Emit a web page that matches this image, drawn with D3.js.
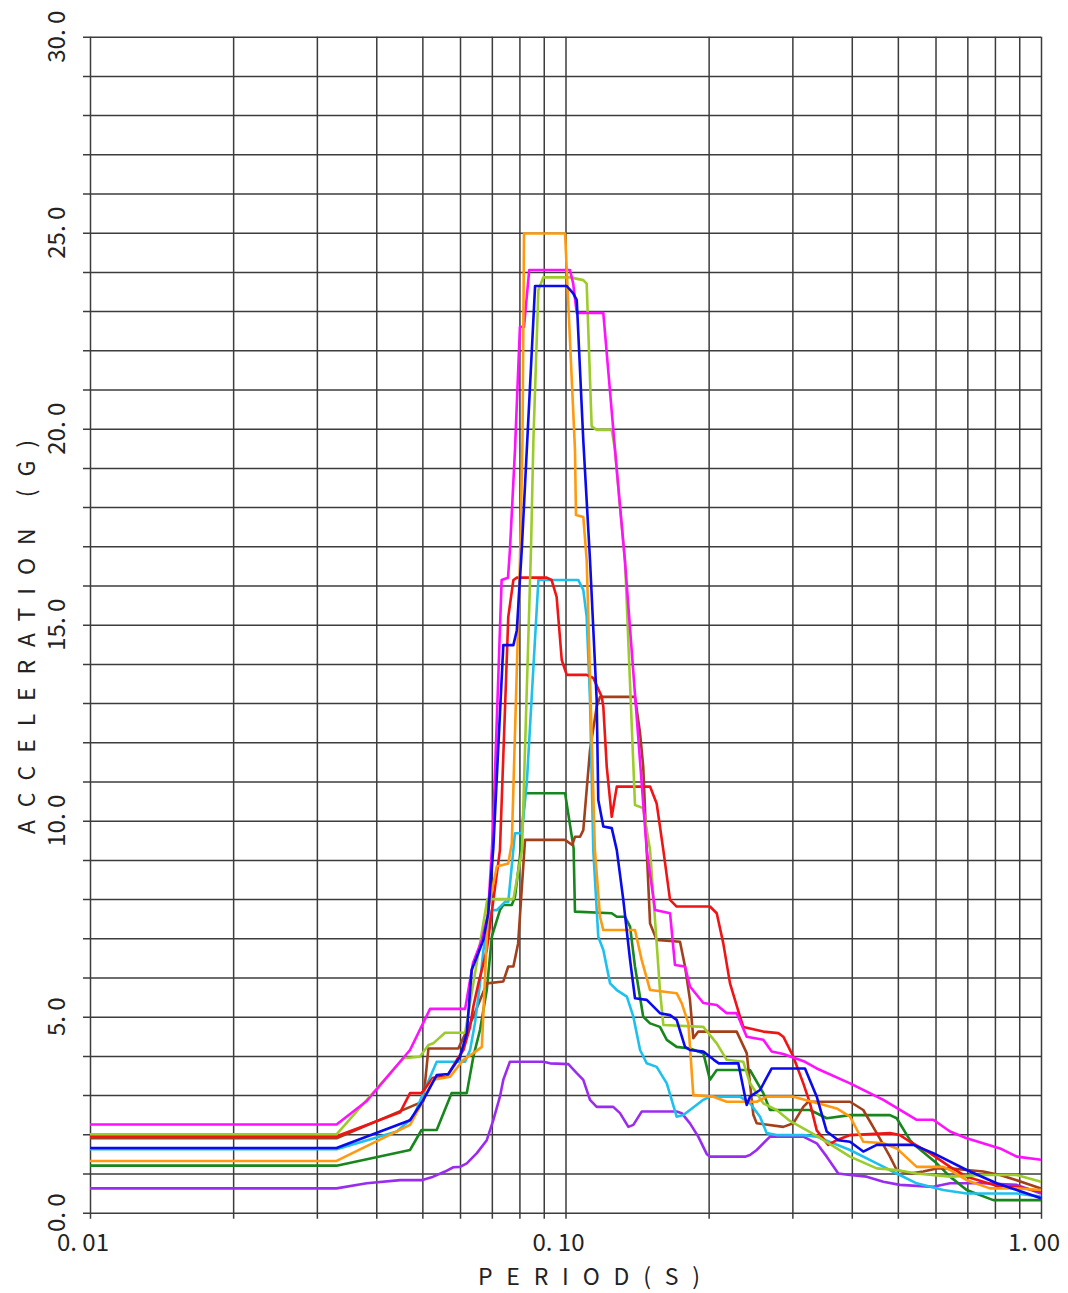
<!DOCTYPE html>
<html>
<head>
<meta charset="utf-8">
<script src="https://cdn.jsdelivr.net/npm/d3@7"></script>
<style>
body { margin: 0; background: #fff; }
svg { display: block; }
</style>
</head>
<body>
<svg id="chart" width="1068" height="1293"></svg>
<script>

// tick values and labels
const xGridValues = [0.01, 0.02, 0.03, 0.04, 0.05, 0.06, 0.07, 0.08, 0.09,
                     0.1, 0.2, 0.3, 0.4, 0.5, 0.6, 0.7, 0.8, 0.9, 1.0];
const xTickValues = [0.01, 0.1, 1.0];
const xTickLabels = ["0. 01", "0. 10", "1. 00"];
const yTickValues = [0, 5, 10, 15, 20, 25, 30];
const yTickLabels = ["0. 0", "5. 0", "10. 0", "15. 0", "20. 0", "25. 0", "30. 0"];

// series: [period (s), acceleration (G)]
const purple = [[0.01,0.62],[0.033,0.62],[0.0382,0.75],[0.0449,0.83],[0.0498,0.83],[0.0527,0.92],[0.0558,1.05],
  [0.0581,1.16],[0.060,1.17],[0.062,1.26],[0.0651,1.52],[0.0683,1.85],[0.0705,2.36],[0.0728,2.96],[0.074,3.39],
  [0.0764,3.85],[0.0898,3.85],[0.0928,3.81],[0.1014,3.79],[0.1056,3.56],[0.109,3.39],[0.1126,2.88],[0.1163,2.7],
  [0.126,2.7],[0.1302,2.54],[0.1356,2.19],[0.1389,2.24],[0.1446,2.58],[0.1713,2.58],[0.1756,2.54],[0.1827,2.28],
  [0.1902,1.94],[0.1981,1.5],[0.2013,1.43],[0.2385,1.43],[0.2443,1.47],[0.2524,1.6],[0.2692,1.94],[0.3163,1.94],
  [0.3376,1.77],[0.3543,1.43],[0.3747,1.0],[0.3966,0.96],[0.43,0.92],[0.466,0.79],[0.5051,0.71],[0.5935,0.66],
  [0.6437,0.75],[0.7561,0.75],[0.889,0.71],[1.0,0.49]];

const green = [[0.01,1.2],[0.033,1.2],[0.0471,1.6],[0.0498,2.11],[0.0536,2.11],[0.0576,3.05],[0.062,3.05],
  [0.064,3.98],[0.0661,4.66],[0.0683,5.68],[0.070,7.04],[0.0728,7.72],[0.074,7.85],[0.0771,7.85],[0.0783,8.06],
  [0.0802,9.08],[0.0822,10.7],[0.0998,10.7],[0.104,9.3],[0.1047,7.68],[0.1251,7.64],[0.1282,7.55],[0.1334,7.55],
  [0.1367,7.3],[0.140,6.28],[0.1457,5.0],[0.1506,4.83],[0.158,4.74],[0.1633,4.41],[0.1713,4.23],[0.1827,4.19],
  [0.1949,4.07],[0.2013,3.39],[0.208,3.64],[0.2443,3.64],[0.2606,3.05],[0.2692,2.62],[0.3268,2.62],[0.3543,2.41],
  [0.3966,2.49],[0.4813,2.49],[0.4972,2.41],[0.5302,1.85],[0.5477,1.68],[0.6034,1.26],[0.6437,0.92],[0.6977,0.58],
  [0.7937,0.32],[1.0,0.32]];

const brown = [[0.01,1.9],[0.033,1.9],[0.0502,2.84],[0.0515,4.19],[0.0595,4.19],[0.064,5.0],[0.0683,5.85],
  [0.074,5.9],[0.0758,6.28],[0.0777,6.28],[0.0795,6.87],[0.0822,9.51],[0.0998,9.51],[0.1033,9.38],[0.1047,9.59],
  [0.1073,9.59],[0.109,9.76],[0.1126,11.8],[0.1163,12.91],[0.1182,13.16],[0.140,13.16],[0.1435,12.23],
  [0.1457,11.38],[0.1482,9.25],[0.1506,7.38],[0.1555,6.96],[0.1741,6.91],[0.1784,6.28],[0.1827,5.43],
  [0.1857,4.45],[0.1902,4.62],[0.2291,4.62],[0.2405,4.07],[0.2483,2.5],[0.2524,2.28],[0.2871,2.19],[0.3014,2.28],
  [0.3163,2.7],[0.324,2.83],[0.3966,2.83],[0.4229,2.62],[0.4514,2.03],[0.4813,1.43],[0.4972,1.09],[0.5302,1.0],
  [0.5655,1.05],[0.6034,1.13],[0.6437,1.13],[0.6977,1.09],[0.7561,1.05],[0.82,0.96],[0.889,0.83],[1.0,0.62]];

const cyan = [[0.01,1.62],[0.033,1.62],[0.0442,2.07],[0.0479,2.45],[0.0502,3.05],[0.0536,3.85],[0.0615,3.85],
  [0.063,4.15],[0.0645,4.83],[0.0661,5.85],[0.0672,6.7],[0.070,7.72],[0.0717,7.72],[0.0746,7.93],[0.0758,7.93],
  [0.0783,9.68],[0.0809,9.68],[0.0829,10.95],[0.0877,16.14],[0.1064,16.14],[0.109,15.89],[0.1108,15.2],
  [0.1126,13.08],[0.1144,9.25],[0.1172,7.04],[0.1201,6.7],[0.1241,5.85],[0.1282,5.68],[0.1346,5.51],[0.1389,5.0],
  [0.1435,4.15],[0.1482,3.81],[0.1555,3.72],[0.1633,3.3],[0.1713,2.45],[0.1769,2.49],[0.1827,2.62],[0.1949,2.88],
  [0.2013,2.96],[0.2328,2.96],[0.2443,2.79],[0.2565,2.45],[0.2649,2.03],[0.278,1.98],[0.3163,1.98],[0.3376,1.94],
  [0.3966,1.6],[0.4514,1.26],[0.4972,1.0],[0.5477,0.75],[0.623,0.58],[0.6977,0.49],[0.889,0.49],[1.0,0.41]];

const red = [[0.01,1.95],[0.033,1.95],[0.0449,2.56],[0.0471,3.05],[0.0498,3.05],[0.0526,3.44],[0.0563,3.47],
  [0.0591,3.9],[0.061,4.15],[0.063,4.74],[0.064,5.26],[0.0656,5.85],[0.0683,6.7],[0.0728,9.25],[0.0758,15.2],
  [0.0777,16.14],[0.079,16.2],[0.0913,16.2],[0.0935,16.14],[0.0958,15.71],[0.0982,14.1],[0.1006,13.72],
  [0.1108,13.72],[0.1144,13.64],[0.1192,13.16],[0.1201,12.91],[0.1221,11.38],[0.1251,10.1],[0.1282,10.87],
  [0.1506,10.87],[0.1555,10.44],[0.1606,9.25],[0.1659,7.98],[0.1713,7.81],[0.2013,7.81],[0.208,7.64],
  [0.2147,6.87],[0.2218,5.85],[0.2328,5.0],[0.2366,4.74],[0.2443,4.70],[0.2606,4.62],[0.2803,4.58],[0.2871,4.49],
  [0.3014,3.98],[0.3163,3.3],[0.3268,2.79],[0.3376,2.1],[0.3569,1.73],[0.3718,1.85],[0.3966,1.98],[0.4813,2.03],
  [0.5051,1.98],[0.5302,1.81],[0.5842,1.52],[0.6437,1.17],[0.6977,0.92],[0.82,0.66],[0.889,0.66],[1.0,0.54]];

const yellowGreen = [[0.01,2.0],[0.033,2.0],[0.0456,3.94],[0.0494,3.98],[0.0515,4.28],[0.0527,4.32],
  [0.0558,4.59],[0.0615,4.59],[0.0685,8.0],[0.0777,8.0],[0.081,9.25],[0.0846,16.9],[0.0856,19.7],[0.0877,23.54],
  [0.0898,23.86],[0.1022,23.86],[0.109,23.79],[0.1108,23.7],[0.1135,20.06],[0.1163,19.97],[0.1251,19.97],
  [0.1271,19.46],[0.1302,18.0],[0.1334,16.65],[0.140,10.4],[0.1457,10.32],[0.1506,9.25],[0.1555,6.87],
  [0.158,5.68],[0.1606,4.79],[0.1949,4.74],[0.208,4.32],[0.2183,3.9],[0.2366,3.85],[0.2443,3.3],[0.2606,2.79],
  [0.278,2.62],[0.2965,2.34],[0.3376,1.96],[0.3966,1.43],[0.4514,1.13],[0.4972,1.09],[0.5477,1.0],[0.6437,0.92],
  [0.7561,0.96],[0.889,0.96],[1.0,0.79]];

const magenta = [[0.01,2.25],[0.033,2.25],[0.0382,2.85],[0.0471,4.15],[0.0519,5.2],[0.0615,5.2],[0.0639,6.37],
  [0.0667,6.96],[0.0687,7.6],[0.0704,9.76],[0.0734,16.14],[0.0757,16.2],[0.0764,16.9],[0.0783,19.46],
  [0.0802,22.6],[0.0818,22.6],[0.0839,24.05],[0.1022,24.05],[0.1038,23.7],[0.1056,22.95],[0.1201,22.95],
  [0.1271,19.46],[0.1334,16.6],[0.1482,9.25],[0.1543,7.72],[0.1659,7.64],[0.1699,6.32],[0.1784,6.28],
  [0.1827,5.77],[0.1949,5.35],[0.208,5.3],[0.2183,5.09],[0.2291,5.09],[0.2405,4.49],[0.2606,4.41],[0.2714,4.11],
  [0.2871,4.05],[0.3189,3.85],[0.3376,3.68],[0.3966,3.3],[0.466,2.88],[0.5477,2.37],[0.5935,2.37],[0.6437,2.07],
  [0.6977,1.9],[0.82,1.64],[0.889,1.43],[1.0,1.35]];

const orange = [[0.01,1.32],[0.033,1.32],[0.0471,2.24],[0.0494,2.7],[0.0527,3.39],[0.0572,3.47],[0.061,3.9],
  [0.064,4.07],[0.0667,4.23],[0.0687,7.7],[0.0717,8.83],[0.0758,8.91],[0.0771,9.42],[0.0802,16.6],[0.0812,19.7],
  [0.0818,24.98],[0.0998,24.98],[0.1047,19.46],[0.1052,17.8],[0.109,17.75],[0.1108,16.65],[0.1153,9.25],
  [0.1182,7.55],[0.1201,7.21],[0.140,7.21],[0.1446,6.45],[0.1506,5.68],[0.1713,5.6],[0.1756,5.34],[0.1813,4.83],
  [0.1857,3.0],[0.2046,2.96],[0.2183,2.83],[0.2524,2.83],[0.2649,2.96],[0.3013,2.96],[0.3376,2.8],[0.3718,2.66],
  [0.3966,2.45],[0.4229,1.81],[0.466,1.77],[0.4972,1.64],[0.5477,1.17],[0.623,1.17],[0.6437,1.09],[0.6977,0.83],
  [0.781,0.62],[0.889,0.62],[1.0,0.58]];

const blue = [[0.01,1.65],[0.033,1.65],[0.0471,2.36],[0.0502,2.87],[0.0536,3.51],[0.0567,3.54],[0.060,3.98],
  [0.062,4.58],[0.0635,6.2],[0.0645,6.4],[0.0672,6.96],[0.0688,7.64],[0.0705,9.3],[0.074,14.48],[0.0777,14.48],
  [0.079,14.86],[0.0809,16.9],[0.0831,19.7],[0.0863,23.64],[0.1006,23.64],[0.1038,23.45],[0.1056,23.28],
  [0.109,19.7],[0.1126,16.65],[0.1163,13.08],[0.1172,10.53],[0.1201,9.85],[0.1251,9.81],[0.1282,9.25],
  [0.1323,7.98],[0.1367,6.45],[0.140,5.47],[0.1482,5.43],[0.158,5.09],[0.1659,5.04],[0.1713,4.92],[0.1784,4.23],
  [0.1827,4.15],[0.1949,4.11],[0.2051,3.9],[0.2101,3.81],[0.2309,3.81],[0.2405,2.75],[0.2443,2.96],[0.2565,3.13],
  [0.2714,3.68],[0.3189,3.68],[0.3376,2.96],[0.3543,2.07],[0.3747,1.85],[0.3966,1.81],[0.4229,1.56],[0.4514,1.73],
  [0.5387,1.73],[0.5935,1.52],[0.6977,1.09],[0.8068,0.75],[0.889,0.58],[1.0,0.37]];

const seriesList = [purple, green, brown, cyan, red, yellowGreen, magenta, orange, blue];
const seriesColors = ["#9a2cf0", "#17861c", "#a3401c", "#1ec0ee", "#f01414", "#9ccc2c", "#ff10ff", "#ff9a10", "#0a0aee"];

const margin = {top: 36.7, right: 27, bottom: 80.3, left: 90};
const svg = d3.select("#chart");
const width = +svg.attr("width") - margin.left - margin.right;
const height = +svg.attr("height") - margin.top - margin.bottom;

const g = svg.append("g")
  .attr("transform", "translate(" + margin.left + "," + margin.top + ")");

const x = d3.scaleLog().domain([0.01, 1]).range([0, width]);
const y = d3.scaleLinear().domain([0, 30]).range([height, 0]);

// horizontal grid (sticks out a little to the left like tick marks)
const yGrid = g.append("g")
  .attr("transform", "translate(-7,0)")
  .call(d3.axisLeft(y).tickValues(d3.range(0, 31)).tickSize(-(width + 7)).tickFormat(""));
yGrid.select(".domain").remove();

// vertical grid (sticks out a little below)
const xGrid = g.append("g")
  .attr("transform", "translate(0," + (height + 6) + ")")
  .call(d3.axisBottom(x).tickValues(xGridValues).tickSize(-(height + 6)).tickFormat(""));
xGrid.select(".domain").remove();

g.selectAll(".tick line")
  .attr("stroke", "#3c3c3c")
  .attr("stroke-width", 1.5);

// curves
const line = d3.line()
  .x(d => x(d[0]))
  .y(d => y(d[1]));

g.append("g").selectAll("path")
  .data(seriesList)
  .enter()
  .append("path")
  .attr("d", line)
  .attr("fill", "none")
  .attr("stroke", (d, i) => seriesColors[i])
  .attr("stroke-width", 2.6)
  .attr("stroke-linejoin", "round");

const fontFamily = "'Noto Sans CJK JP', 'Noto Sans', sans-serif";

// y tick labels, rotated
g.append("g").selectAll("text")
  .data(yTickValues)
  .enter()
  .append("text")
  .attr("transform", d => "translate(-25," + y(d) + ") rotate(-90)")
  .attr("text-anchor", "middle")
  .attr("font-family", fontFamily)
  .attr("font-size", 24)
  .attr("fill", "#222")
  .text((d, i) => yTickLabels[i]);

// x tick labels
g.append("g").selectAll("text")
  .data(xTickValues)
  .enter()
  .append("text")
  .attr("x", d => x(d) - 7)
  .attr("y", height + 38)
  .attr("text-anchor", "middle")
  .attr("font-family", fontFamily)
  .attr("font-size", 24)
  .attr("fill", "#222")
  .text((d, i) => xTickLabels[i]);

// axis titles
g.append("text")
  .attr("x", 499)
  .attr("y", height + 72)
  .attr("text-anchor", "middle")
  .attr("font-family", fontFamily)
  .attr("font-size", 23)
  .attr("fill", "#222")
  .attr("textLength", 222)
  .attr("lengthAdjust", "spacing")
  .text("PERIOD(S)");

g.append("text")
  .attr("transform", "translate(-55," + (637 - margin.top) + ") rotate(-90)")
  .attr("text-anchor", "middle")
  .attr("font-family", fontFamily)
  .attr("font-size", 23)
  .attr("fill", "#222")
  .attr("textLength", 394)
  .attr("lengthAdjust", "spacing")
  .text("ACCELERATION (G)");

</script>
</body>
</html>
